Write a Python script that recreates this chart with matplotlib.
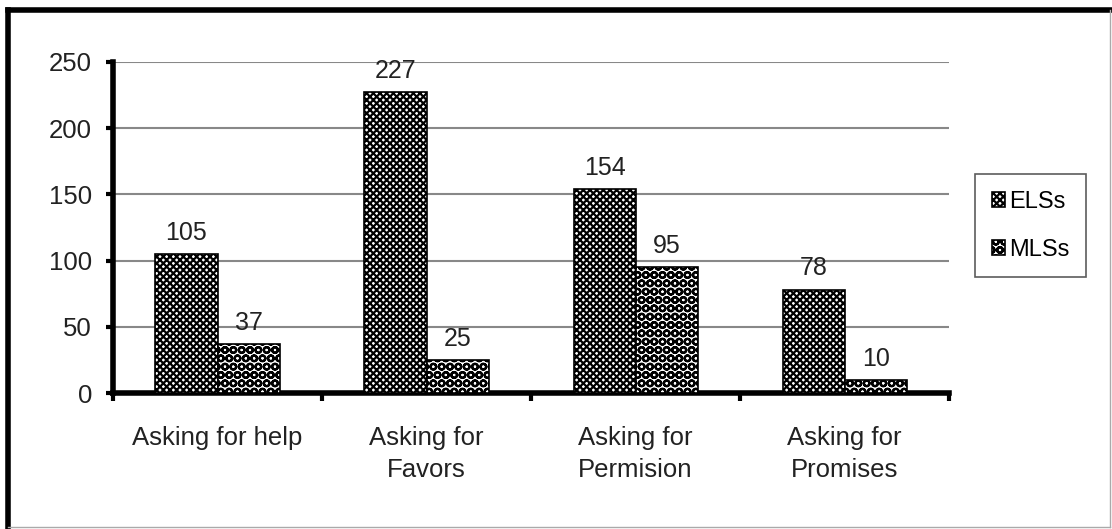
import matplotlib.pyplot as plt
import matplotlib.lines as mlines
import numpy as np

categories = ['Asking for help', 'Asking for\nFavors', 'Asking for\nPermision', 'Asking for\nPromises']
els = [105, 227, 154, 78]
mls = [37, 25, 95, 10]

plt.rcParams['font.family'] = ['Liberation Sans', 'DejaVu Sans']
plt.rcParams['hatch.linewidth'] = 1.6

fig = plt.figure(figsize=(11.12, 5.29), dpi=100)
ax = fig.add_axes([0.1016, 0.257, 0.752, 0.626])

x = np.arange(len(categories))
w = 0.297
b1 = ax.bar(x - w / 2, els, w, color='white', edgecolor='black', hatch='xxxxx', linewidth=1.2, label='ELSs', zorder=3)
b2 = ax.bar(x + w / 2, mls, w, color='white', edgecolor='black', hatch='OO', linewidth=1.2, label='MLSs', zorder=3)

for rect, v in zip(list(b1) + list(b2), els + mls):
    ax.text(rect.get_x() + rect.get_width() / 2, v + 7, str(v), ha='center', va='bottom',
            fontsize=18, color='#222222')

ax.set_xlim(-0.5, 3.5)
ax.set_ylim(0, 250)
ax.set_yticks(range(0, 251, 50))
ax.yaxis.grid(True, color='#888888', linewidth=1.5, zorder=0)
ax.set_axisbelow(True)

ax.set_xticks(x)
ax.set_xticklabels(categories, fontsize=18.5, color='#222222', va='top', linespacing=1.4)
ax.set_xticks(np.arange(-0.5, 4, 1), minor=True)
ax.tick_params(axis='x', which='major', length=0, pad=24)
ax.tick_params(axis='x', which='minor', length=6, width=3, direction='out')
ax.tick_params(axis='y', length=5, width=3, labelsize=18.5, labelcolor='#222222', pad=10)

for s in ['top', 'right']:
    ax.spines[s].set_visible(False)
for s in ['left', 'bottom']:
    ax.spines[s].set_linewidth(4)

leg = fig.legend(handles=[b1, b2], labels=['ELSs', 'MLSs'], loc='center',
                 bbox_to_anchor=(0.927, 0.573), fontsize=17, frameon=True, fancybox=False,
                 edgecolor='#333333', handlelength=0.55, handleheight=0.55, handletextpad=0.2,
                 labelspacing=1.1, borderpad=0.7, borderaxespad=0)
leg.get_frame().set_linewidth(1.2)

# outer chart frame
fig.add_artist(mlines.Line2D([0.007, 0.007], [0.003, 0.982], color='black', linewidth=4, transform=fig.transFigure))
fig.add_artist(mlines.Line2D([0.007, 0.999], [0.982, 0.982], color='black', linewidth=4, transform=fig.transFigure))
fig.add_artist(mlines.Line2D([0.998, 0.998], [0.003, 0.982], color='#aaaaaa', linewidth=1, transform=fig.transFigure))
fig.add_artist(mlines.Line2D([0.007, 0.998], [0.004, 0.004], color='#aaaaaa', linewidth=1, transform=fig.transFigure))

plt.savefig('out.png', dpi=100)
